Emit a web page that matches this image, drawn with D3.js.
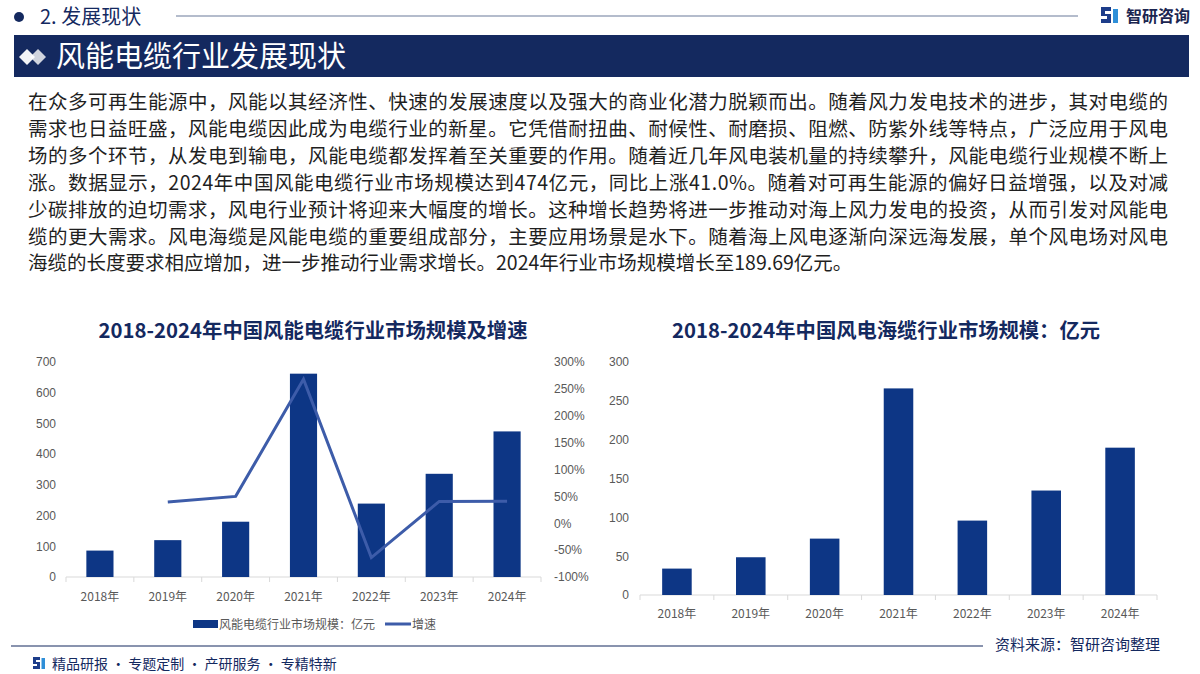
<!DOCTYPE html>
<html>
<head>
<meta charset="utf-8">
<script src="https://cdn.jsdelivr.net/npm/d3@7"></script>
<style>
  body { margin: 0; background: #fff; }
  svg { display: block; font-family: "Noto Sans CJK SC", "Noto Sans", sans-serif; }
</style>
</head>
<body>
<div id="page"></div>
<script>
// ---- data ----
const years = ["2018年", "2019年", "2020年", "2021年", "2022年", "2023年", "2024年"];
const cableSize = [86, 120, 180, 662, 239, 336, 474];          // 风能电缆行业市场规模：亿元
const cableGrowth = [null, 39.5, 50, 267.8, -63.9, 40.6, 41.0]; // 增速 %
const seaCable = [34, 48.6, 72.6, 266, 95.8, 134.5, 189.69];    // 风电海缆行业市场规模：亿元
const leftTicks = [0, 100, 200, 300, 400, 500, 600, 700];
const rightTicks = [-100, -50, 0, 50, 100, 150, 200, 250, 300];
const seaTicks = [0, 50, 100, 150, 200, 250, 300];

const paragraph = [
  "在众多可再生能源中，风能以其经济性、快速的发展速度以及强大的商业化潜力脱颖而出。随着风力发电技术的进步，其对电缆的",
  "需求也日益旺盛，风能电缆因此成为电缆行业的新星。它凭借耐扭曲、耐候性、耐磨损、阻燃、防紫外线等特点，广泛应用于风电",
  "场的多个环节，从发电到输电，风能电缆都发挥着至关重要的作用。随着近几年风电装机量的持续攀升，风能电缆行业规模不断上",
  "涨。数据显示，2024年中国风能电缆行业市场规模达到474亿元，同比上涨41.0%。随着对可再生能源的偏好日益增强，以及对减",
  "少碳排放的迫切需求，风电行业预计将迎来大幅度的增长。这种增长趋势将进一步推动对海上风力发电的投资，从而引发对风能电",
  "缆的更大需求。风电海缆是风能电缆的重要组成部分，主要应用场景是水下。随着海上风电逐渐向深远海发展，单个风电场对风电",
  "海缆的长度要求相应增加，进一步推动行业需求增长。2024年行业市场规模增长至189.69亿元。"
];

const W = 1200, H = 674;
const navy = "#14295f", barColor = "#0d3685", lineColor = "#3d5ca9", tickColor = "#595959";

const svg = d3.select("#page").append("svg").attr("width", W).attr("height", H);

// ---- header ----
svg.append("circle").attr("cx", 19).attr("cy", 17).attr("r", 5).attr("fill", navy);
svg.append("text").attr("x", 40).attr("y", 24).attr("font-size", 20).attr("fill", navy).text("2. 发展现状");
svg.append("line").attr("x1", 176).attr("x2", 1078).attr("y1", 16).attr("y2", 16)
  .attr("stroke", "#6b7a99").attr("stroke-width", 1.2);

// logo
const logo = svg.append("g").attr("transform", "translate(1101,7)");
logo.append("path").attr("d", "M0,0h10v4h-6v3h6v9h-10v-4h6v-3h-6z").attr("fill", "#1d3d8a");
logo.append("path").attr("d", "M12,2h5v14h-5z").attr("fill", "#2f8fd8");
svg.append("text").attr("x", 1126).attr("y", 22).attr("font-size", 16).attr("font-weight", "bold")
  .attr("fill", "#1b2550").text("智研咨询");

// banner
svg.append("rect").attr("x", 14).attr("y", 35).attr("width", 1175).attr("height", 42).attr("fill", navy);
svg.append("path").attr("d", "M30,57l8,-8l8,8l-8,8z").attr("fill", "#d0d4de");
svg.append("path").attr("d", "M19,57l8,-8l8,8l-8,8z").attr("fill", "#ffffff").attr("opacity", 0.95);
svg.append("text").attr("x", 56).attr("y", 67).attr("font-size", 29).attr("fill", "#fff").text("风能电缆行业发展现状");

// ---- paragraph ----
svg.append("g").selectAll("text").data(paragraph).join("text")
  .attr("x", 28)
  .attr("y", (d, i) => 109 + i * 26.9)
  .attr("font-size", 19.5)
  .attr("fill", "#1f1f1f")
  .attr("textLength", (d, i) => i < paragraph.length - 1 ? 1140 : null)
  .attr("lengthAdjust", "spacing")
  .text(d => d);

// ---- left chart: 市场规模及增速 ----
svg.append("text").attr("x", 313).attr("y", 338).attr("text-anchor", "middle")
  .attr("font-size", 20.5).attr("font-weight", "bold").attr("fill", navy)
  .attr("textLength", 429).attr("lengthAdjust", "spacingAndGlyphs")
  .text("2018-2024年中国风能电缆行业市场规模及增速");

const xL = d3.scaleBand().domain(years).range([66, 541]).paddingInner(0.6).paddingOuter(0.3);
const yL = d3.scaleLinear().domain([0, 700]).range([577, 362]);
const yR = d3.scaleLinear().domain([-100, 300]).range([577, 362]);

// category axis: light baseline with ticks at band boundaries
function bandAxis(g, x, y0) {
  g.attr("transform", `translate(0,${y0})`);
  const r = x.range();
  g.append("line").attr("x1", r[0]).attr("x2", r[1]).attr("stroke", "#d9d9d9");
  const bounds = d3.range(years.length + 1).map(i => r[0] + (r[1] - r[0]) * i / years.length);
  g.selectAll("line.tk").data(bounds).join("line").attr("class", "tk")
    .attr("x1", d => d).attr("x2", d => d).attr("y1", 0).attr("y2", 5).attr("stroke", "#d9d9d9");
}

const gxL = svg.append("g");
bandAxis(gxL, xL, 577);
svg.append("g").selectAll("text").data(years).join("text")
  .attr("x", d => xL(d) + xL.bandwidth() / 2).attr("y", 601)
  .attr("text-anchor", "middle").attr("font-size", 12).attr("fill", tickColor).text(d => d);

svg.append("g").attr("transform", "translate(56,0)")
  .call(d3.axisLeft(yL).tickValues(leftTicks).tickSize(0).tickPadding(0))
  .call(g => g.select(".domain").remove())
  .call(g => g.selectAll("text").attr("font-size", 12).attr("fill", tickColor).attr("font-family", "inherit"));

svg.append("g").attr("transform", "translate(554,0)")
  .call(d3.axisRight(yR).tickValues(rightTicks).tickSize(0).tickPadding(0).tickFormat(d => d + "%"))
  .call(g => g.select(".domain").remove())
  .call(g => g.selectAll("text").attr("font-size", 12).attr("fill", tickColor).attr("font-family", "inherit"));

svg.append("g").selectAll("rect").data(cableSize).join("rect")
  .attr("x", (d, i) => xL(years[i]))
  .attr("y", d => yL(d))
  .attr("width", xL.bandwidth())
  .attr("height", d => yL(0) - yL(d))
  .attr("fill", barColor);

const growthLine = d3.line()
  .defined(d => d != null)
  .x((d, i) => xL(years[i]) + xL.bandwidth() / 2)
  .y(d => yR(d));

svg.append("path").datum(cableGrowth)
  .attr("d", growthLine)
  .attr("fill", "none").attr("stroke", lineColor).attr("stroke-width", 3)
  .attr("stroke-linejoin", "miter");

// legend
const lg = svg.append("g").attr("transform", "translate(193,624)");
lg.append("rect").attr("x", 0).attr("y", -4).attr("width", 25).attr("height", 8).attr("fill", barColor);
lg.append("text").attr("x", 26).attr("y", 4.5).attr("font-size", 12).attr("fill", tickColor).text("风能电缆行业市场规模：亿元");
lg.append("line").attr("x1", 192).attr("x2", 218).attr("y1", 0).attr("y2", 0).attr("stroke", lineColor).attr("stroke-width", 3);
lg.append("text").attr("x", 219).attr("y", 4.5).attr("font-size", 12).attr("fill", tickColor).text("增速");

// ---- right chart: 风电海缆 ----
svg.append("text").attr("x", 886).attr("y", 338).attr("text-anchor", "middle")
  .attr("font-size", 20.5).attr("font-weight", "bold").attr("fill", navy)
  .attr("textLength", 428).attr("lengthAdjust", "spacingAndGlyphs")
  .text("2018-2024年中国风电海缆行业市场规模：亿元");

const xS = d3.scaleBand().domain(years).range([640, 1157]).paddingInner(0.6).paddingOuter(0.3);
const yS = d3.scaleLinear().domain([0, 300]).range([595, 362]);

const gxS = svg.append("g");
bandAxis(gxS, xS, 595);
svg.append("g").selectAll("text").data(years).join("text")
  .attr("x", d => xS(d) + xS.bandwidth() / 2).attr("y", 618)
  .attr("text-anchor", "middle").attr("font-size", 12).attr("fill", tickColor).text(d => d);

svg.append("g").attr("transform", "translate(629,0)")
  .call(d3.axisLeft(yS).tickValues(seaTicks).tickSize(0).tickPadding(0))
  .call(g => g.select(".domain").remove())
  .call(g => g.selectAll("text").attr("font-size", 12).attr("fill", tickColor).attr("font-family", "inherit"));

svg.append("g").selectAll("rect").data(seaCable).join("rect")
  .attr("x", (d, i) => xS(years[i]))
  .attr("y", d => yS(d))
  .attr("width", xS.bandwidth())
  .attr("height", d => yS(0) - yS(d))
  .attr("fill", barColor);

// ---- footer ----
svg.append("line").attr("x1", 11).attr("x2", 983).attr("y1", 646).attr("y2", 646)
  .attr("stroke", navy).attr("stroke-width", 1.2);
svg.append("text").attr("x", 995).attr("y", 650).attr("font-size", 15).attr("fill", navy).text("资料来源：智研咨询整理");
const fl = svg.append("g").attr("transform", "translate(33,657)");
fl.append("path").attr("d", "M0,0h7v3h-4v2h4v7h-7v-3h4v-2h-4z").attr("fill", "#1d3d8a");
fl.append("path").attr("d", "M8.5,1h3.5v11h-3.5z").attr("fill", "#2f8fd8");
svg.append("text").attr("x", 52).attr("y", 669).attr("font-size", 14).attr("fill", navy)
  .text("精品研报 · 专题定制 · 产研服务 · 专精特新");
</script>
</body>
</html>
